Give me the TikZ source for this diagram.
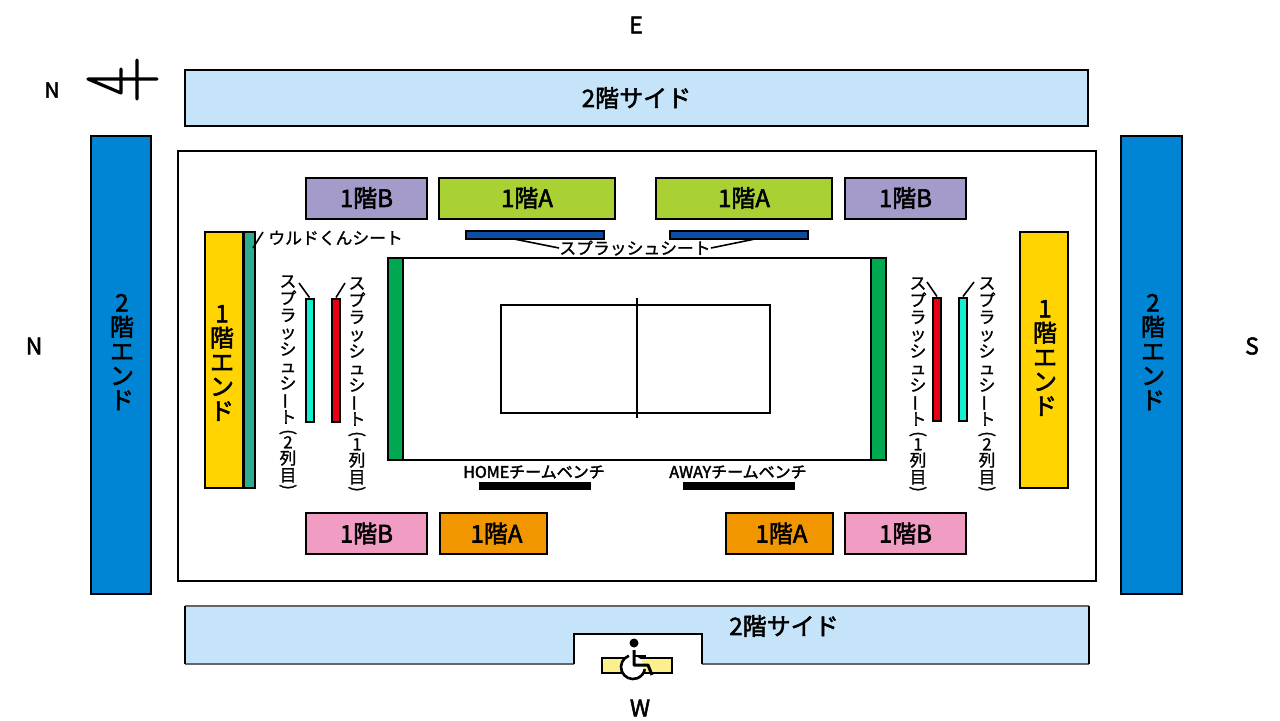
\documentclass[tikz,border=0pt]{standalone}
\usepackage{fontspec}
\usepackage{graphicx}
\setmainfont{Noto Sans CJK JP}
\newfontfamily\midfont[FakeBold=1.2]{Noto Sans CJK JP}
\newfontfamily\heavyfont[FakeBold=2.2]{Noto Sans CJK JP}
\usetikzlibrary{positioning,shapes.geometric}
\definecolor{paleblue}{HTML}{C6E4F9}
\definecolor{deepblue}{HTML}{0085D5}
\definecolor{lilac}{HTML}{A59BCA}
\definecolor{lime}{HTML}{A9D134}
\definecolor{rosy}{HTML}{F09CC3}
\definecolor{amber}{HTML}{F29600}
\definecolor{gold}{HTML}{FFD400}
\definecolor{teal2}{HTML}{2FAC8D}
\definecolor{courtgreen}{HTML}{00A94F}
\definecolor{aqua}{HTML}{14EFCF}
\definecolor{scarlet}{HTML}{E60012}
\definecolor{navy2}{HTML}{0B4CA4}
\definecolor{cream}{HTML}{FBF08C}
\newcommand{\tightsmall}{\midfont\fontsize{8.4}{8.5}\selectfont\setlength{\lineskiplimit}{-20pt}}
\newcommand{\tightbig}{\heavyfont\fontsize{12}{12.2}\selectfont\setlength{\lineskiplimit}{-20pt}}
\tikzstyle{seat} = [rectangle, inner sep=0pt, text centered, draw=black, line width=1pt]
\tikzstyle{side2f} = [seat, minimum width=451.5pt, minimum height=28pt, fill=paleblue, line width=0.9pt]
\tikzstyle{end2f} = [seat, minimum width=30pt, minimum height=229pt, fill=deepblue]
\tikzstyle{end1f} = [seat, minimum height=128pt, fill=gold]
\tikzstyle{seatb} = [seat, minimum width=60.5pt, minimum height=20.5pt]
\tikzstyle{seata} = [seat, minimum height=20.5pt]
\tikzstyle{splashv} = [seat, minimum width=4pt, minimum height=61.5pt]
\tikzstyle{splashh} = [seat, minimum width=69pt, minimum height=4pt, fill=navy2]
\tikzstyle{courtend} = [seat, minimum width=7.5pt, minimum height=101pt, fill=courtgreen]
\tikzstyle{bench} = [rectangle, inner sep=0pt, minimum width=56pt, minimum height=4pt, fill=black]
\tikzstyle{big} = [font=\heavyfont\fontsize{12}{12}\selectfont]
\tikzstyle{small} = [inner sep=0pt, font=\midfont\fontsize{8.4}{8.5}\selectfont]
\tikzstyle{benchtext} = [inner sep=0pt, font=\heavyfont\fontsize{8}{8}\selectfont]
\tikzstyle{vert} = [inner sep=0pt, align=center, font=\tightsmall]
\tikzstyle{vertbig} = [inner sep=0pt, align=center, font=\tightbig]
\tikzstyle{compass} = [inner sep=0pt, font=\heavyfont\fontsize{11.5}{11}\selectfont]
\tikzstyle{leader} = [line width=0.8pt]
\newcommand{\vbar}{\raisebox{0.1em}{\smash{\rotatebox[origin=c]{90}{ー}}}}
\newcommand{\vopen}{\smash{\rotatebox[origin=c]{-90}{(}}}
\newcommand{\vclose}{\smash{\rotatebox[origin=c]{-90}{)}}}
\newcommand{\splashrow}[1]{ス\\プ\\ラ\\ッ\\シ\\ュ\\シ\\\vbar\\ト\\[-1.5pt]\vopen\\[-3pt]#1\\[-0.5pt]列\\目\\[-3pt]\vclose}
\begin{document}
\begin{tikzpicture}[x=0.5pt,y=-0.5pt,node distance=1pt]
\useasboundingbox (0,0) rectangle (1280,720);

% outer hall
\node (hall) [seat, minimum width=459pt, minimum height=215pt] at (637,366) {};

% upper floor
\node (sideTop) [side2f, big] at (636.5,98) {2階サイド};
\node (endLeft) [end2f] at (121,365) {};
\node (endRight) [end2f, minimum width=30.5pt] at (1151,365) {};
\node (endLeftText) [vertbig] at (122,352) {2\\階\\エ\\ン\\ド};
\node (endRightText) [vertbig] at (1153,352) {2\\階\\エ\\ン\\ド};
\fill [paleblue] (185,606) -- (1089,606) -- (1089,664) -- (702,664) -- (702,634) -- (574,634) -- (574,664) -- (185,664) -- cycle;
\draw [black!60, line width=1pt] (185,606) -- (1089,606);
\draw [black!60, line width=1pt] (185,664) -- (574,664);
\draw [black!60, line width=1pt] (702,664) -- (1089,664);
\draw [black, line width=0.8pt] (185,606) -- (185,664);
\draw [black, line width=0.8pt] (1089,606) -- (1089,664);
\draw [black, line width=0.7pt] (574,664) -- (574,634) -- (702,634) -- (702,664);
\node (sideBottomText) [big] at (784,626) {2階サイド};

% compass
\node (labelE) [compass] at (636,25) {E};
\node (labelNtop) [compass, font=\heavyfont\fontsize{10.5}{10}\selectfont] at (52,90) {N};
\node (labelN) [compass] at (34,346) {N};
\node (labelS) [compass] at (1252,346) {S};
\node (labelW) [compass] at (640,708) {W};
\draw [line width=1.6pt, line cap=round, line join=round] (157,79) -- (88,79) -- (121,93) -- (121,69) (137,60) -- (137,99);

% seats north of the court
\node (bTopLeft) [seatb, big, fill=lilac] at (366.5,198) {1階B};
\node (aTopLeft) [seata, big, fill=lime, minimum width=88pt] at (527,198) {1階A};
\node (aTopRight) [seata, big, fill=lime, minimum width=88pt] at (744,198) {1階A};
\node (bTopRight) [seatb, big, fill=lilac] at (905.5,198) {1階B};

% seats south of the court
\node (bBotLeft) [seatb, big, fill=rosy] at (366.5,533.5) {1階B};
\node (aBotLeft) [seata, big, fill=amber, minimum width=53.5pt] at (493.5,533.5) {\hspace{3pt}1階A};
\node (aBotRight) [seata, big, fill=amber, minimum width=53.5pt] at (779.5,533.5) {\hspace{2pt}1階A};
\node (bBotRight) [seatb, big, fill=rosy] at (905.5,533.5) {1階B};

% end seats
\node (endOneLeft) [end1f, minimum width=19pt] at (224,360) {};
\node (endOneLeftText) [vertbig] at (222,363) {1\\階\\エ\\ン\\ド};
\node (uldo) [seat, fill=teal2, minimum width=5.5pt, minimum height=128pt, right=-0.5pt of endOneLeft] {};
\node (endOneRight) [end1f, minimum width=24pt] at (1044,360) {};
\node (endOneRightText) [vertbig] at (1045,358) {1\\階\\エ\\ン\\ド};
\node (uldoText) [small, anchor=west] at (268,238) {ウルドくんシート};
\coordinate (uldoStart) at (253,248);
\coordinate (uldoTip) at (263,232);
\draw [leader] (uldoStart) -- (uldoTip);

% splash seats
\node (splashTopLeft) [splashh] at (534.5,235) {};
\node (splashTopRight) [splashh] at (738.5,235) {};
\node (splashTopText) [small] at (635,248) {スプラッシュシート};
\coordinate (splashStartL) at (514,239);
\coordinate (splashStartR) at (755,239);
\draw [leader] (splashStartL) -- (splashTopText.west);
\draw [leader] (splashStartR) -- (splashTopText.east);

\node (cyanLeft) [splashv, fill=aqua] at (309.5,360) {};
\node (redLeft) [splashv, fill=scarlet] at (336,360) {};
\node (redRight) [splashv, fill=scarlet] at (937,359) {};
\node (cyanRight) [splashv, fill=aqua] at (963,359) {};
\node (cyanLeftText) [vert, anchor=north] at (288,275) {\splashrow{2}};
\node (redLeftText) [vert, anchor=north] at (357,277) {\splashrow{1}};
\node (redRightText) [vert, anchor=north] at (918,277) {\splashrow{1}};
\node (cyanRightText) [vert, anchor=north] at (987,277) {\splashrow{2}};
\coordinate (tickA) at (299,283);
\coordinate (tickB) at (345,283);
\coordinate (tickC) at (927,282);
\coordinate (tickD) at (974,282);
\draw [leader] (tickA) -- (cyanLeft.north);
\draw [leader] (tickB) -- (redLeft.north);
\draw [leader] (tickC) -- (redRight.north);
\draw [leader] (tickD) -- (cyanRight.north);

% court
\node (court) [seat, minimum width=235pt, minimum height=101pt] at (637,359) {};
\node (zone) [seat, minimum width=134.5pt, minimum height=54pt, line width=0.8pt] at (635.5,359) {};
\node (courtEndL) [courtend] at (395,359) {};
\node (courtEndR) [courtend] at (878.5,359) {};
\coordinate (netTop) at (637,298);
\coordinate (netBot) at (637,418);
\draw [line width=0.8pt] (netTop) -- (netBot);

% benches
\node (homeText) [benchtext] at (534,472) {HOMEチームベンチ};
\node (homeBench) [bench] at (535,486) {};
\node (awayText) [benchtext] at (738,472) {AWAYチームベンチ};
\node (awayBench) [bench] at (739,486) {};

% wheelchair seats
\node (wheelBar) [seat, fill=cream, minimum width=35pt, minimum height=7.5pt] at (637,665) {};
\fill [white] (633,667) circle (11);
\draw [line width=1.3pt] (633,667) ++(250:12) arc (250:10:12);
\fill (634,643) circle (4.5);
\draw [line width=1.5pt, line join=round] (634,650) -- (634,665) -- (648,665) -- (652,675);
\draw [line width=1.4pt] (634,656) -- (646,656);
\end{tikzpicture}
\end{document}
